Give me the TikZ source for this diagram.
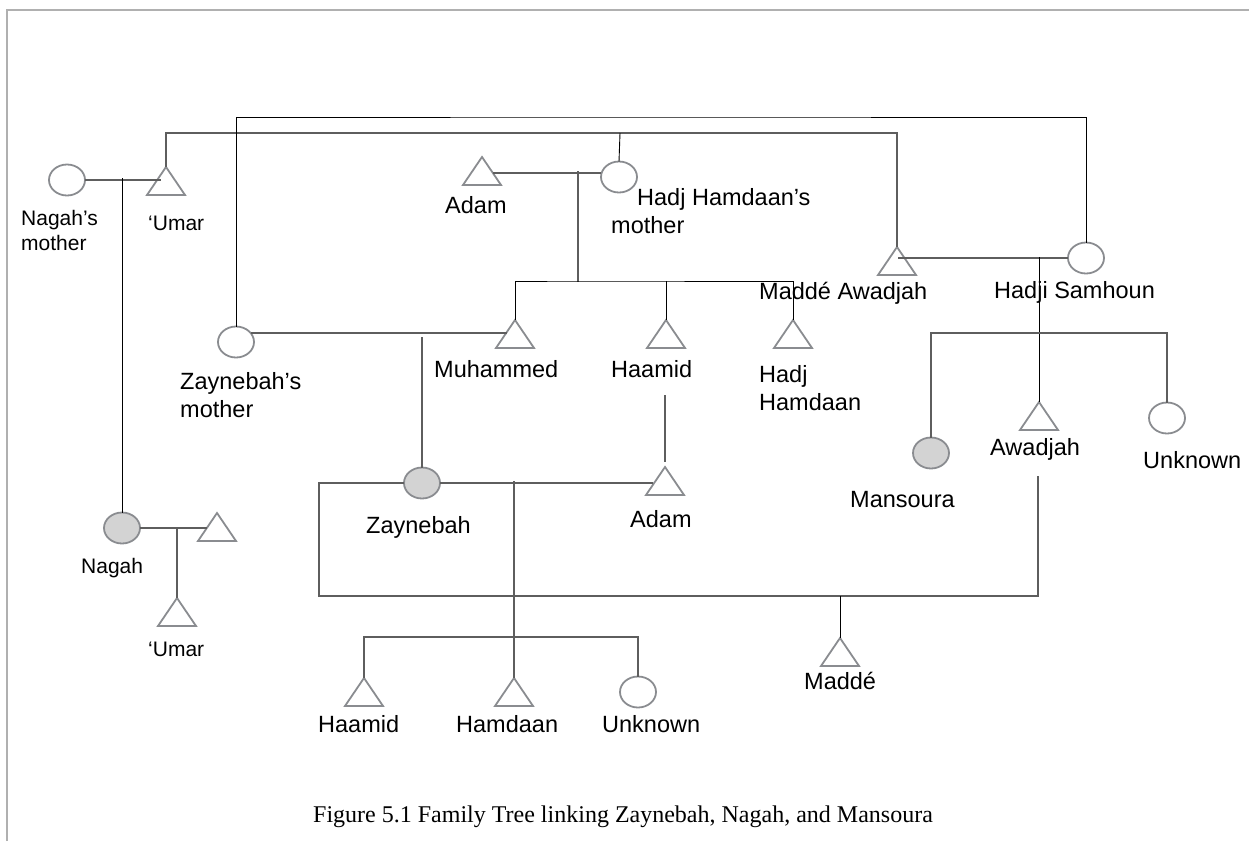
\documentclass[tikz,border=0pt]{standalone}
\usepackage{fontspec}
\setmainfont{Liberation Serif}
\newfontfamily\arialf{Liberation Sans}
\usetikzlibrary{shapes.geometric}
\definecolor{shp}{HTML}{8A8C90}
\definecolor{fil}{HTML}{D3D3D3}
\definecolor{lin}{HTML}{5E5E5E}
\definecolor{frm}{HTML}{B0B0B0}
\tikzset{
  fem/.style={ellipse, draw=shp, line width=1.8pt, minimum width=36pt, minimum height=31pt, inner sep=0pt, outer sep=0pt},
  femf/.style={fem, fill=fil},
  mal/.style={regular polygon, regular polygon sides=3, draw=shp, line width=1.8pt, minimum size=43.9pt, inner sep=0pt, outer sep=0pt, yscale=0.85, anchor=north},
  lab/.style={font=\arialf\fontsize{23.5}{28}\selectfont, inner sep=0pt, anchor=base west, align=left},
  labs/.style={lab, font=\arialf\fontsize{21}{25}\selectfont},
  gry/.style={draw=lin, line width=1.3pt},
  blk/.style={draw=black, line width=0.9pt},
}
\begin{document}
\begin{tikzpicture}[x=1pt, y=-1pt]
\useasboundingbox (0,0) rectangle (1249,841);
\draw[frm, line width=2pt] (7,841) -- (7,10) -- (1249,10);

% persons
\node[fem]  (nm)  at (67,180) {};
\node[mal]  (u1)  at (166,167) {};
\node[fem]  (hhm) at (619,177) {};
\node[mal]  (ad1) at (482,157) {};
\node[mal]  (ma)  at (897,247) {};
\node[fem]  (hs)  at (1086,258) {};
\node[fem]  (zm)  at (236,342) {};
\node[mal]  (mu)  at (515,320) {};
\node[mal]  (ha1) at (666,320) {};
\node[mal]  (hh)  at (793,320) {};
\node[mal]  (aw)  at (1039,402) {};
\node[fem]  (un1) at (1167,418) {};
\node[femf] (mn)  at (931,453) {};
\node[femf] (za)  at (422,483) {};
\node[mal]  (ad2) at (665,467) {};
\node[femf] (ng)  at (122,528) {};
\node[mal]  (nh)  at (217,513) {};
\node[mal]  (u2)  at (177,598) {};
\node[mal]  (md)  at (840,638) {};
\node[mal]  (ha2) at (364,678) {};
\node[mal]  (hm)  at (514,678) {};
\node[fem]  (un2) at (638,692) {};

% labels (multi-line labels are placed by the baseline of their last line)
\node[labs] (l-nm)  at (21,250) {Nagah’s\\mother};
\node[labs] (l-u1)  at (148,230) {‘Umar};
\node[lab]  (l-ad1) at (445,213) {Adam};
\node[lab]  (l-hhm) at (611,233) {\hspace*{26pt}Hadj Hamdaan’s\\mother};
\node[lab]  (l-ma)  at (759,299) {Maddé Awadjah};
\node[lab]  (l-hs)  at (994,298) {Hadji Samhoun};
\node[lab]  (l-zm)  at (180,417) {Zaynebah’s\\mother};
\node[lab]  (l-mu)  at (434,377) {Muhammed};
\node[lab]  (l-ha1) at (611,377) {Haamid};
\node[lab]  (l-hh)  at (759,410) {Hadj\\Hamdaan};
\node[lab]  (l-aw)  at (990,455) {Awadjah};
\node[lab]  (l-un1) at (1143,468) {Unknown};
\node[lab]  (l-mn)  at (850,507) {Mansoura};
\node[lab]  (l-za)  at (366,533) {Zaynebah};
\node[lab]  (l-ad2) at (630,527) {Adam};
\node[labs] (l-ng)  at (81,573) {Nagah};
\node[labs] (l-u2)  at (148,656) {‘Umar};
\node[lab]  (l-md)  at (804,689) {Maddé};
\node[lab]  (l-ha2) at (318,732) {Haamid};
\node[lab]  (l-hm)  at (456,732) {Hamdaan};
\node[lab]  (l-un2) at (602,732) {Unknown};
\node[font=\fontsize{24}{28}\selectfont, inner sep=0pt, anchor=base west] (cap) at (313,822)
  {Figure 5.1 Family Tree linking Zaynebah, Nagah, and Mansoura};

% junction coordinates
\coordinate (j1) at (122,178);
\coordinate (s1) at (620,133);
\coordinate (t1) at (660,117);
\coordinate (m2) at (578,173);
\coordinate (s2) at (578,281);
\coordinate (m3) at (422,333);
\coordinate (m3b) at (422,337);
\coordinate (hab) at (665,395);
\coordinate (j3) at (319,596);
\coordinate (awb) at (1038,476);
\coordinate (m5) at (514,481);
\coordinate (s5) at (514,637);
\coordinate (m6) at (1039,257);
\coordinate (s6) at (1039,333);
\coordinate (m7) at (177,528);

% connectors
\draw[gry] (nm.east) -- ([xshift=-5pt]nm.east -| u1.north);
\draw[blk] (j1) -- (ng.north);
\draw[gry] (u1.north) |- (s1) -| (ma.north);
\draw[blk] (s1) -- (hhm.north);
\draw[blk] (zm.north) |- (t1) -| (hs.north);
\draw[gry] ([xshift=11pt]ad1.north |- m2) -- (hhm.west |- m2);
\draw[gry] ([yshift=2pt]m2) -- ([yshift=-1pt]s2);
\draw[blk] (mu.north) |- (s2) -| (hh.north);
\draw[blk] (s2 -| ha1.north) -- (ha1.north);
\draw[gry] ([xshift=-3pt]zm.east |- m3) -- ([xshift=-8pt]mu.north |- m3);
\draw[gry] (m3b) -- (za.north);
\draw[gry] (hab) -- ([yshift=5pt]ad2.north);
\draw[gry] (za.east) -- ([xshift=-12pt]ad2.north |- za.east);
\draw[gry] (za.west) -| (j3) -| (awb);
\draw[blk] (md.north |- j3) -- (md.north);
\draw[gry] (m5) -- (hm.north);
\draw[gry] (ha2.north) |- (s5) -| (un2.north);
\draw[gry] ([xshift=1pt]ma.north |- hs.west) -- (hs.west);
\draw[blk] (m6) -- (aw.north);
\draw[gry] (mn.north) |- (s6) -| (un1.north);
\draw[gry] (ng.east) -- ([xshift=-10pt]nh.north |- ng.east);
\draw[gry] (m7) -- (u2.north);
\end{tikzpicture}
\end{document}
